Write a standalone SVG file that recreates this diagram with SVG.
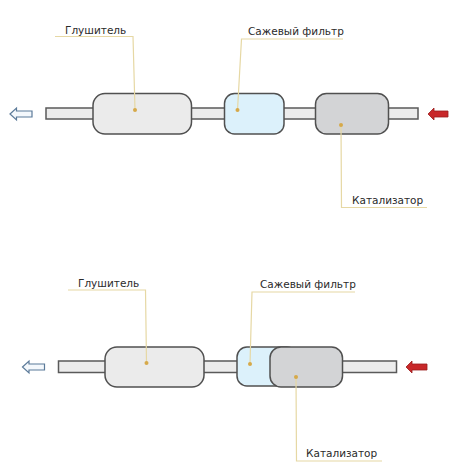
<svg xmlns="http://www.w3.org/2000/svg" width="474" height="474" viewBox="0 0 474 474">
<style>
.pipe{fill:#ececec;stroke:#5a5a5a;stroke-width:1.5}
.box{stroke:#505050;stroke-width:1.5}
.muf{fill:#ebebeb}
.fil{fill:#dcf1fb}
.cat{fill:#d3d4d6}
.lead{fill:none;stroke:#e6d8a4;stroke-width:1.2}
.dot{fill:#d6a94a}
.lbl{font-family:"DejaVu Sans",Verdana,sans-serif;font-size:10.5px;fill:#2a2a2a}
.out{fill:#f4f8fc;stroke:#5b7a99;stroke-width:1.2}
.in{fill:#c8282a;stroke:#9a1c1c;stroke-width:0.8}
</style>
<rect width="474" height="474" fill="#ffffff"/>
<!-- top diagram -->
<g id="top">
<rect class="pipe" x="46" y="108" width="372" height="11"/>
<path class="out" d="M10,114 L16.5,108 L16.5,111 L32,111 L32,117 L16.5,117 L16.5,120 Z"/>
<path class="in" d="M428,114 L434,108 L434,111 L448,111 L448,117 L434,117 L434,120 Z"/>
<g id="muffler1"><rect class="box muf" x="93" y="93.5" width="98.5" height="40.5" rx="12"/></g>
<g id="filter1"><rect class="box fil" x="224.5" y="93.5" width="59.5" height="40.5" rx="10"/></g>
<g id="catalyst1"><rect class="box cat" x="315.5" y="93.5" width="73" height="40.5" rx="11"/></g>
<g id="connectors1">
<polyline class="lead" points="55,36.5 133,36.5 135,110"/>
<polyline class="lead" points="343,39 241.5,39 237.5,110"/>
<polyline class="lead" points="341,125 341.5,207.5 427,207.5"/>
<circle class="dot" cx="135" cy="110" r="2"/>
<circle class="dot" cx="237.5" cy="110" r="2"/>
<circle class="dot" cx="341" cy="125" r="2"/>
</g>
<text class="lbl" x="65" y="34">Глушитель</text>
<text class="lbl" x="248" y="35">Сажевый фильтр</text>
<text class="lbl" x="352" y="204">Катализатор</text>
</g>
<!-- bottom diagram -->
<g id="bottom">
<rect class="pipe" x="58.5" y="361" width="338" height="11.5"/>
<path class="out" d="M22.5,367 L29,361 L29,364 L44.5,364 L44.5,370 L29,370 L29,373 Z"/>
<path class="in" d="M406,367 L412,361 L412,364 L427,364 L427,370 L412,370 L412,373 Z"/>
<g id="muffler2"><rect class="box muf" x="105" y="347" width="99" height="40" rx="12"/></g>
<g id="filter2"><rect class="box fil" x="237" y="347" width="60" height="39" rx="10"/></g>
<g id="catalyst2"><rect class="box cat" x="270" y="347" width="72.5" height="40" rx="11"/></g>
<g id="connectors2">
<polyline class="lead" points="68,290 145.5,290 146.5,363"/>
<polyline class="lead" points="355,292 252,292 250,364"/>
<polyline class="lead" points="296,377 296.5,461 382,461"/>
<circle class="dot" cx="146.5" cy="363" r="2"/>
<circle class="dot" cx="250" cy="364" r="2"/>
<circle class="dot" cx="296" cy="377" r="2"/>
</g>
<text class="lbl" x="78" y="286.5">Глушитель</text>
<text class="lbl" x="260" y="287.5">Сажевый фильтр</text>
<text class="lbl" x="306" y="457">Катализатор</text>
</g>
</svg>
